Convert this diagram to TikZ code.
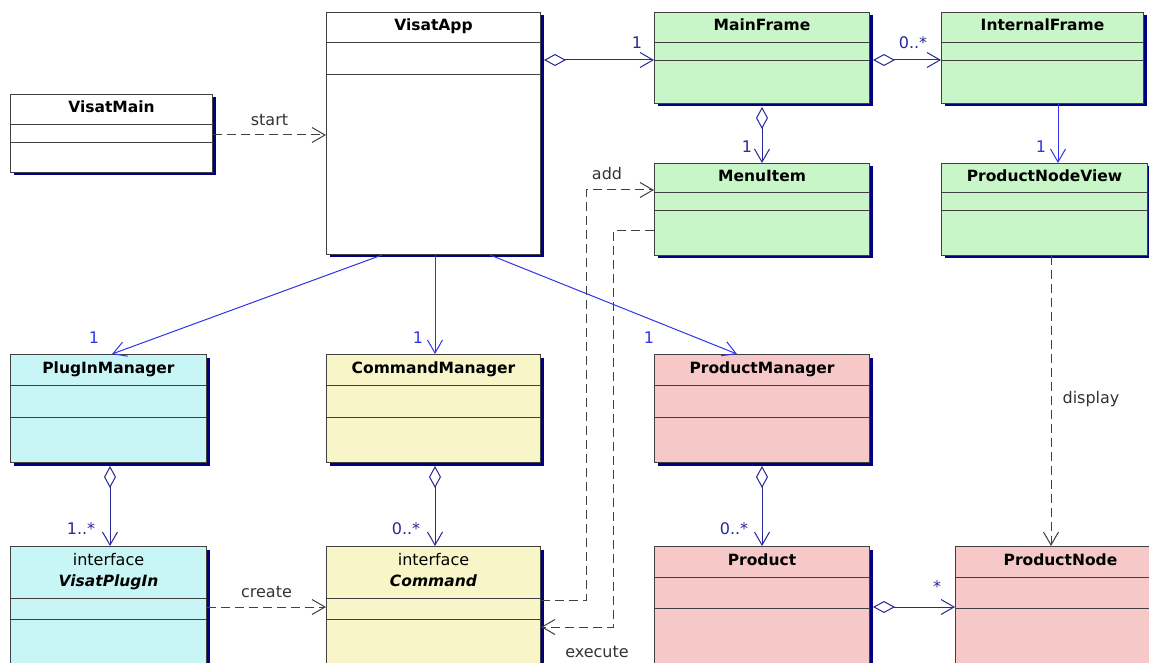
\documentclass[tikz,border=0pt]{standalone}
\usepackage{fontspec}
\setmainfont{DejaVu Sans}
\usetikzlibrary{arrows.meta,shadows}

\definecolor{frameclr}{RGB}{200,246,200}
\definecolor{pluginclr}{RGB}{200,246,246}
\definecolor{cmdclr}{RGB}{248,246,200}
\definecolor{prodclr}{RGB}{246,200,200}
\definecolor{shadowclr}{RGB}{0,0,128}
\definecolor{edgeclr}{RGB}{64,64,64}
\definecolor{assocclr}{RGB}{50,50,235}
\definecolor{aggrclr}{RGB}{40,40,150}

\tikzset{
  classbox/.style={draw=edgeclr, line width=1pt, anchor=north west, inner sep=0pt,
    drop shadow={shadow xshift=3pt, shadow yshift=-3pt, fill=shadowclr, opacity=1}},
  classtitle/.style={anchor=base, inner sep=0pt, font=\fontsize{15.5}{19}\selectfont\bfseries},
  classline/.style={draw=edgeclr, line width=1pt},
  assoc/.style={draw=assocclr, line width=1pt, -{Straight Barb[length=13pt,width=15pt]}},
  aggr/.style={draw=aggrclr, line width=1pt, shorten <=3pt,
    {Diamond[open,length=22pt,width=12pt]}-{Straight Barb[length=13pt,width=15pt]}},
  depend/.style={draw=edgeclr, line width=1pt, dash pattern=on 9pt off 5pt,
    -{Straight Barb[length=13pt,width=15pt]}},
  txt/.style={font=\fontsize{16}{19}\selectfont, text=black!80, inner sep=0pt},
  mult/.style={font=\fontsize{16}{19}\selectfont, inner sep=0pt},
}

% name, fill, corner, width, height, first and second separator, title
\newcommand{\umlclass}[8]{
  \node[classbox, fill=#2, minimum width=#4, minimum height=#5] (#1) at (#3) {};
  \node[classtitle] (#1-title) at ([yshift=-19pt]#1.north) {#8};
  \draw[classline] ([yshift=-#6]#1.north west) -- ([yshift=-#6]#1.north east);
  \draw[classline] ([yshift=-#7]#1.north west) -- ([yshift=-#7]#1.north east);
}

\begin{document}
\begin{tikzpicture}[x=1pt,y=-1pt]
  \useasboundingbox (0,0) rectangle (1149,663);
  \clip (0,0) rectangle (1149,663);

  \umlclass{visatmain}{white}{10,94}{202pt}{78pt}{31pt}{49pt}{VisatMain}
  \umlclass{visatapp}{white}{326,12}{214pt}{242pt}{31pt}{63pt}{VisatApp}
  \umlclass{mainframe}{frameclr}{654,12}{215pt}{91pt}{31pt}{49pt}{MainFrame}
  \umlclass{internalframe}{frameclr}{941,12}{202pt}{91pt}{31pt}{49pt}{InternalFrame}
  \umlclass{menuitem}{frameclr}{654,163}{215pt}{92pt}{30pt}{48pt}{MenuItem}
  \umlclass{nodeview}{frameclr}{941,163}{206pt}{92pt}{30pt}{48pt}{ProductNodeView}
  \umlclass{pluginmgr}{pluginclr}{10,354}{196pt}{108pt}{31pt}{63pt}{PlugInManager}
  \umlclass{cmdmgr}{cmdclr}{326,354}{214pt}{108pt}{31pt}{63pt}{CommandManager}
  \umlclass{prodmgr}{prodclr}{654,354}{215pt}{108pt}{31pt}{63pt}{ProductManager}
  \umlclass{plugin}{pluginclr}{10,546}{196pt}{140pt}{52pt}{73pt}{}
  \umlclass{command}{cmdclr}{326,546}{214pt}{140pt}{52pt}{73pt}{}
  \umlclass{product}{prodclr}{654,546}{215pt}{140pt}{31pt}{62pt}{Product}
  \umlclass{prodnode}{prodclr}{955,546}{210pt}{140pt}{31pt}{62pt}{ProductNode}

  % stereotyped headers of the two interfaces
  \node[classtitle, font=\fontsize{16}{19}\selectfont] (plugin-stereo) at ([yshift=-19pt]plugin.north) {interface};
  \node[classtitle] (plugin-name) at ([yshift=-40pt]plugin.north) {\textit{VisatPlugIn}};
  \node[classtitle, font=\fontsize{16}{19}\selectfont] (command-stereo) at ([yshift=-19pt]command.north) {interface};
  \node[classtitle] (command-name) at ([yshift=-40pt]command.north) {\textit{Command}};

  \draw[depend] (visatmain.east |- 0,135) -- (visatapp.west |- 0,135)
    node[txt, pos=0.5, above=9pt] {start};

  \draw[aggr] (visatapp.east |- 0,60) -- (mainframe.west |- 0,60);
  \draw[aggr] (mainframe.east |- 0,60) -- (internalframe.west |- 0,60);
  \draw[aggr] (mainframe.south) -- (menuitem.north);
  \draw[assoc] (1058,0 |- internalframe.south) -- (1058,0 |- nodeview.north);

  \draw[assoc] (382,0 |- visatapp.south) -- (112,0 |- pluginmgr.north);
  \draw[assoc] (435,0 |- visatapp.south) -- (435,0 |- cmdmgr.north);
  \draw[assoc] (490,0 |- visatapp.south) -- (737,0 |- prodmgr.north);

  \draw[aggr] (110,0 |- pluginmgr.south) -- (110,0 |- plugin.north);
  \draw[aggr] (435,0 |- cmdmgr.south) -- (435,0 |- command.north);
  \draw[aggr] (prodmgr.south) -- (product.north);
  \draw[aggr] (product.east |- 0,607) -- (prodnode.west |- 0,607);

  \draw[depend] (plugin.east |- 0,607) -- (command.west |- 0,607)
    node[txt, pos=0.5, above=9pt] {create};
  \draw[depend] (command.east |- 0,600) -| (586,190) -- (menuitem.west |- 0,190);
  \draw[depend] (menuitem.west |- 0,231) -| (613,627) -- (command.east |- 0,627);
  \draw[depend] (1051,0 |- nodeview.south) -- (1051,0 |- prodnode.north);

  \node[mult, text=aggrclr] (m-main) at (637,43) {1};
  \node[mult, text=aggrclr] (m-internal) at (913,43) {0..*};
  \node[mult, text=aggrclr] (m-menu) at (747,147) {1};
  \node[mult, text=assocclr] (m-view) at (1041,147) {1};
  \node[mult, text=assocclr] (m-plugmgr) at (94,338) {1};
  \node[mult, text=assocclr] (m-cmdmgr) at (418,338) {1};
  \node[mult, text=assocclr] (m-prodmgr) at (649,338) {1};
  \node[mult, text=aggrclr] (m-plugin) at (81,529) {1..*};
  \node[mult, text=aggrclr] (m-command) at (406,529) {0..*};
  \node[mult, text=aggrclr] (m-product) at (734,529) {0..*};
  \node[mult, text=aggrclr] (m-node) at (937,587) {*};

  \node[txt] (add) at (607,174) {add};
  \node[txt] (execute) at (597,652) {execute};
  \node[txt] (display) at (1091,399) {display};
\end{tikzpicture}
\end{document}
